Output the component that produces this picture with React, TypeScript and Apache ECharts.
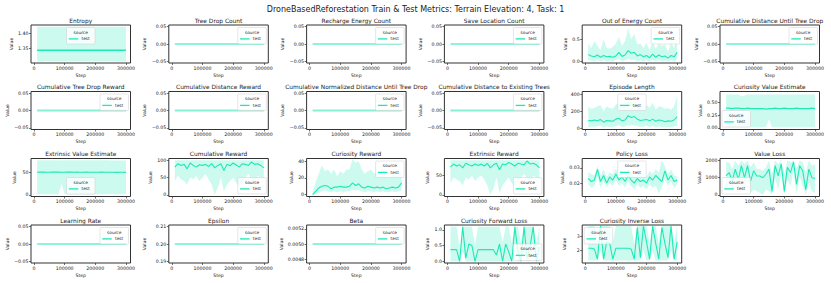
import React, { useEffect, useRef } from "react";
import * as echarts from "echarts";

// ---------- data ----------
const mainTitle = "DroneBasedReforestation Train & Test Metrics: Terrain Elevation: 4, Task: 1";
const steps = [10000, 20000, 30000, 40000, 50000, 60000, 70000, 80000, 90000, 100000, 110000, 120000, 130000, 140000, 150000, 160000, 170000, 180000, 190000, 200000, 210000, 220000, 230000, 240000, 250000, 260000, 270000, 280000, 290000, 300000];
const xTicks = [0, 100000, 200000, 300000];
const xTickLabels = ["0", "100000", "200000", "300000"];

const zeroTicks = [-0.05, 0, 0.05];
const zeroTickLabels = ["\u22120.05", "0.00", "0.05"];
const entropyTicks = [1.35, 1.4];
const entropyTickLabels = ["1.35", "1.40"];
const energyTicks = [0, 0.5];
const energyTickLabels = ["0.0", "0.5"];
const episodeTicks = [0, 200, 400];
const episodeTickLabels = ["0", "200", "400"];
const curValTicks = [0, 0.25, 0.5];
const curValTickLabels = ["0.00", "0.25", "0.50"];
const fiftyTicks = [0, 50];
const fiftyTickLabels = ["0", "50"];
const hundredTicks = [0, 50, 100];
const hundredTickLabels = ["0", "50", "100"];
const curRewardTicks = [0, 20, 40];
const curRewardTickLabels = ["0", "20", "40"];
const policyTicks = [0.02, 0.03];
const policyTickLabels = ["0.02", "0.03"];
const valueLossTicks = [0, 1000, 2000];
const valueLossTickLabels = ["0", "1000", "2000"];
const epsilonTicks = [0.19, 0.2, 0.21];
const epsilonTickLabels = ["0.19", "0.20", "0.21"];
const betaTicks = [0.0048, 0.005, 0.0052];
const betaTickLabels = ["0.0048", "0.0050", "0.0052"];
const fwdTicks = [0, 0.5, 1];
const fwdTickLabels = ["0.0", "0.5", "1.0"];
const invTicks = [2, 3];
const invTickLabels = ["2", "3"];

const entropyMean = [1.345, 1.345, 1.345, 1.345, 1.345, 1.345, 1.345, 1.345, 1.345, 1.345, 1.345, 1.345, 1.345, 1.345, 1.345, 1.345, 1.345, 1.345, 1.345, 1.345, 1.345, 1.345, 1.345, 1.345, 1.345, 1.345, 1.345, 1.345, 1.345, 1.345];
const entropyUpper = [1.42, 1.42, 1.42, 1.42, 1.42, 1.42, 1.42, 1.42, 1.42, 1.42, 1.42, 1.42, 1.42, 1.42, 1.42, 1.42, 1.42, 1.42, 1.42, 1.42, 1.42, 1.42, 1.42, 1.42, 1.42, 1.42, 1.42, 1.42, 1.42, 1.42];
const entropyLower = [1.31, 1.31, 1.31, 1.31, 1.31, 1.31, 1.31, 1.31, 1.31, 1.31, 1.31, 1.31, 1.31, 1.31, 1.31, 1.31, 1.31, 1.31, 1.31, 1.31, 1.31, 1.31, 1.31, 1.31, 1.31, 1.31, 1.31, 1.31, 1.31, 1.31];
const treeDropCount = [0, 0, 0, 0, 0, 0, 0, 0, 0, 0, 0, 0, 0, 0, 0, 0, 0, 0, 0, 0, 0, 0, 0, 0, 0, 0, 0, 0, 0, 0];
const rechargeEnergyCount = [0, 0, 0, 0, 0, 0, 0, 0, 0, 0, 0, 0, 0, 0, 0, 0, 0, 0, 0, 0, 0, 0, 0, 0, 0, 0, 0, 0, 0, 0];
const saveLocationCount = [0, 0, 0, 0, 0, 0, 0, 0, 0, 0, 0, 0, 0, 0, 0, 0, 0, 0, 0, 0, 0, 0, 0, 0, 0, 0, 0, 0, 0, 0];
const outOfEnergyMean = [0.15, 0.12, 0.10, 0.14, 0.09, 0.13, 0.10, 0.11, 0.09, 0.12, 0.20, 0.11, 0.14, 0.24, 0.18, 0.20, 0.12, 0.15, 0.10, 0.13, 0.08, 0.16, 0.09, 0.14, 0.10, 0.12, 0.07, 0.13, 0.10, 0.20];
const outOfEnergyUpper = [0.40, 0.30, 0.45, 0.35, 0.25, 0.50, 0.30, 0.28, 0.33, 0.40, 0.55, 0.35, 0.45, 0.75, 0.50, 0.62, 0.38, 0.40, 0.30, 0.42, 0.25, 0.45, 0.28, 0.40, 0.35, 0.38, 0.22, 0.42, 0.30, 0.55];
const outOfEnergyLower = [0.02, 0.01, 0.00, 0.02, 0.00, 0.02, 0.00, 0.01, 0.00, 0.02, 0.05, 0.00, 0.02, 0.05, 0.03, 0.04, 0.00, 0.02, 0.00, 0.02, 0.00, 0.03, 0.00, 0.02, 0.00, 0.01, 0.00, 0.02, 0.00, 0.04];
const cumDistUntilTreeDrop = [0, 0, 0, 0, 0, 0, 0, 0, 0, 0, 0, 0, 0, 0, 0, 0, 0, 0, 0, 0, 0, 0, 0, 0, 0, 0, 0, 0, 0, 0];
const cumTreeDropReward = [0, 0, 0, 0, 0, 0, 0, 0, 0, 0, 0, 0, 0, 0, 0, 0, 0, 0, 0, 0, 0, 0, 0, 0, 0, 0, 0, 0, 0, 0];
const cumDistanceReward = [0, 0, 0, 0, 0, 0, 0, 0, 0, 0, 0, 0, 0, 0, 0, 0, 0, 0, 0, 0, 0, 0, 0, 0, 0, 0, 0, 0, 0, 0];
const cumNormDistUntilTreeDrop = [0, 0, 0, 0, 0, 0, 0, 0, 0, 0, 0, 0, 0, 0, 0, 0, 0, 0, 0, 0, 0, 0, 0, 0, 0, 0, 0, 0, 0, 0];
const cumDistToExistingTrees = [0, 0, 0, 0, 0, 0, 0, 0, 0, 0, 0, 0, 0, 0, 0, 0, 0, 0, 0, 0, 0, 0, 0, 0, 0, 0, 0, 0, 0, 0];
const episodeMean = [95, 90, 100, 92, 105, 75, 95, 90, 85, 110, 120, 90, 100, 150, 130, 140, 110, 95, 100, 105, 90, 110, 85, 100, 95, 80, 90, 85, 100, 140];
const episodeUpper = [250, 230, 240, 260, 270, 200, 260, 240, 230, 280, 300, 250, 270, 330, 300, 320, 260, 240, 250, 280, 240, 300, 220, 260, 250, 230, 240, 220, 260, 380];
const episodeLower = [20, 25, 20, 30, 30, 15, 25, 20, 15, 30, 40, 20, 25, 40, 35, 40, 30, 20, 25, 30, 20, 30, 15, 25, 20, 15, 20, 15, 25, 30];
const curValMean = [0.39, 0.39, 0.38, 0.39, 0.39, 0.38, 0.38, 0.39, 0.38, 0.38, 0.38, 0.38, 0.38, 0.37, 0.38, 0.38, 0.39, 0.38, 0.38, 0.39, 0.38, 0.38, 0.38, 0.39, 0.38, 0.38, 0.38, 0.38, 0.39, 0.38];
const curValUpper = [0.66, 0.66, 0.66, 0.66, 0.66, 0.62, 0.64, 0.66, 0.66, 0.66, 0.66, 0.66, 0.66, 0.66, 0.66, 0.66, 0.66, 0.66, 0.66, 0.66, 0.66, 0.66, 0.66, 0.66, 0.66, 0.66, 0.66, 0.66, 0.66, 0.66];
const curValLower = [0.01, 0.01, 0.01, 0.01, 0.01, 0.01, 0.01, 0.01, 0.01, 0.01, 0.01, 0.01, 0.01, 0.01, 0.17, 0.01, 0.01, 0.01, 0.01, 0.01, 0.01, 0.01, 0.01, 0.01, 0.01, 0.01, 0.01, 0.01, 0.01, 0.01];
const extValMean = [49.5, 49.8, 50.0, 49.7, 49.6, 49.9, 50.1, 49.8, 49.5, 49.7, 50.0, 49.8, 49.6, 49.9, 49.7, 49.5, 49.8, 49.6, 49.7, 49.5, 49.6, 49.8, 49.5, 49.4, 49.6, 49.5, 49.3, 49.5, 49.4, 49.2];
const extValUpper = [76, 76, 76, 76, 76, 76, 76, 76, 75.5, 76, 76, 76, 76, 76, 76, 76, 76, 76, 76, 76, 76, 76, 76, 76, 75.5, 75.5, 75.5, 75.5, 75.5, 75.5];
const extValLower = [1, 1, 1, 1, 1, 1, 1, 1, 24, 1, 1, 1, 1, 1, 1, 1, 1, 1, 1, 1, 1, 1, 1, 1, 1, 1, 1, 1, 1, 1];
const cumRewardMean = [80, 90, 85, 88, 75, 92, 85, 80, 87, 85, 88, 82, 90, 78, 85, 90, 70, 88, 84, 92, 86, 80, 90, 88, 85, 95, 88, 90, 85, 78];
const cumRewardUpper = [100, 100, 100, 100, 100, 100, 100, 100, 100, 100, 100, 100, 100, 100, 100, 100, 100, 100, 100, 100, 100, 100, 100, 100, 100, 100, 100, 100, 100, 100];
const cumRewardLower = [40, 55, 45, 40, 30, 50, 45, 55, 40, 50, 60, 45, 30, 0, 20, 50, 10, 30, 40, 50, 35, 25, 40, 50, 60, 45, 30, 55, 50, 45];
const curRewardMean = [0, 4, 8, 10, 11, 10, 7, 9, 9, 10, 9, 9, 10, 14, 11, 13, 9, 8, 10, 9, 8, 9, 8, 9, 7, 8, 9, 8, 9, 14];
const curRewardUpper = [2, 15, 25, 35, 28, 30, 25, 30, 22, 28, 25, 30, 30, 42, 38, 40, 30, 25, 28, 30, 25, 28, 22, 25, 22, 20, 25, 22, 25, 30];
const curRewardLower = [0, 1, 2, 4, 5, 4, 3, 4, 3, 4, 3, 4, 4, 6, 5, 6, 4, 3, 4, 4, 3, 4, 3, 4, 3, 3, 4, 3, 4, 5];
const extRewardMean = [72, 80, 75, 78, 70, 82, 78, 75, 80, 76, 80, 75, 82, 70, 78, 82, 65, 80, 78, 84, 80, 75, 82, 80, 78, 88, 80, 82, 78, 70];
const extRewardUpper = [90, 90, 90, 90, 90, 90, 90, 90, 90, 90, 90, 90, 90, 90, 90, 90, 90, 90, 90, 90, 90, 90, 90, 90, 90, 90, 90, 90, 90, 90];
const extRewardLower = [30, 45, 40, 35, 25, 45, 40, 50, 35, 45, 50, 40, 25, 0, 15, 45, 5, 25, 35, 45, 30, 20, 35, 45, 55, 40, 25, 50, 45, 40];
const policyLossMean = [0.023, 0.021, 0.022, 0.029, 0.021, 0.025, 0.020, 0.024, 0.022, 0.026, 0.022, 0.024, 0.021, 0.025, 0.022, 0.020, 0.023, 0.021, 0.022, 0.020, 0.024, 0.022, 0.025, 0.023, 0.021, 0.028, 0.022, 0.025, 0.021, 0.022];
const policyLossUpper = [0.027, 0.026, 0.025, 0.031, 0.025, 0.029, 0.024, 0.027, 0.026, 0.029, 0.026, 0.028, 0.025, 0.029, 0.026, 0.024, 0.027, 0.025, 0.026, 0.024, 0.028, 0.026, 0.029, 0.027, 0.035, 0.031, 0.026, 0.029, 0.025, 0.024];
const policyLossLower = [0.019, 0.017, 0.018, 0.024, 0.017, 0.021, 0.017, 0.020, 0.018, 0.022, 0.018, 0.020, 0.017, 0.021, 0.018, 0.016, 0.019, 0.017, 0.018, 0.016, 0.019, 0.017, 0.018, 0.013, 0.017, 0.023, 0.018, 0.021, 0.017, 0.019];
const valueLossMean = [1100, 1300, 800, 1500, 900, 1700, 1000, 1700, 800, 1400, 1100, 1100, 1000, 1200, 1500, 200, 1700, 1100, 1800, 200, 1600, 1300, 1900, 600, 1700, 1400, 300, 1500, 1000, 950];
const valueLossUpper = [1900, 1900, 1500, 2000, 1700, 2000, 1800, 2000, 1600, 1900, 1500, 1500, 1400, 1600, 2000, 1200, 2000, 1800, 2000, 1200, 2000, 1900, 2000, 1500, 2000, 1900, 1300, 2000, 1700, 1800];
const valueLossLower = [400, 600, 200, 900, 200, 1100, 300, 1100, 100, 300, 200, 100, 0, 300, 200, 0, 1000, 300, 1200, 0, 900, 500, 1400, 0, 1100, 500, 0, 700, 200, 100];
const learningRate = [0, 0, 0, 0, 0, 0, 0, 0, 0, 0, 0, 0, 0, 0, 0, 0, 0, 0, 0, 0, 0, 0, 0, 0, 0, 0, 0, 0, 0, 0];
const epsilon = [0.2, 0.2, 0.2, 0.2, 0.2, 0.2, 0.2, 0.2, 0.2, 0.2, 0.2, 0.2, 0.2, 0.2, 0.2, 0.2, 0.2, 0.2, 0.2, 0.2, 0.2, 0.2, 0.2, 0.2, 0.2, 0.2, 0.2, 0.2, 0.2, 0.2];
const beta = [0.005, 0.005, 0.005, 0.005, 0.005, 0.005, 0.005, 0.005, 0.005, 0.005, 0.005, 0.005, 0.005, 0.005, 0.005, 0.005, 0.005, 0.005, 0.005, 0.005, 0.005, 0.005, 0.005, 0.005, 0.005, 0.005, 0.005, 0.005, 0.005, 0.005];
const fwdLossMean = [0.37, 0.37, 0.37, 0.0, 1.1, 0.1, 0.55, 0.5, 0.0, 0.37, 0.37, 0.37, 0.37, 0.37, 0.37, 0.2, 0.55, 0.0, 0.55, 0.3, 0.0, 1.1, 0.3, 0.0, 1.1, 0.1, 0.5, 1.1, 0.0, 0.45];
const fwdLossUpper = [1.1, 1.1, 1.1, 0.4, 1.1, 1.1, 1.1, 1.1, 0.5, 1.1, 1.1, 1.1, 1.1, 1.1, 1.1, 1.1, 1.1, 0.6, 1.1, 1.1, 0.6, 1.1, 1.1, 0.6, 1.1, 1.1, 1.1, 1.1, 0.6, 1.1];
const fwdLossLower = [0, 0, 0, 0, 0.3, 0, 0, 0, 0, 0, 0, 0, 0, 0, 0, 0, 0, 0, 0, 0, 0, 0.3, 0, 0, 0.3, 0, 0, 0.3, 0, 0];
const invLossMean = [2.15, 2.15, 2.1, 1.4, 3.7, 1.4, 2.6, 2.5, 1.4, 2.15, 2.15, 2.15, 2.15, 2.15, 2.1, 1.4, 3.6, 1.5, 3.7, 2.6, 1.4, 3.7, 2.5, 1.4, 3.6, 2.5, 1.5, 3.7, 1.4, 2.6];
const invLossUpper = [3.7, 3.7, 3.7, 2.4, 3.7, 3.7, 3.7, 3.7, 2.5, 3.7, 3.7, 3.7, 3.7, 3.7, 3.7, 2.4, 3.7, 3.7, 3.7, 3.7, 2.5, 3.7, 3.7, 2.5, 3.7, 3.7, 3.7, 3.7, 2.5, 3.7];
const invLossLower = [1.3, 1.3, 1.3, 1.3, 2.0, 1.3, 1.3, 1.3, 1.3, 1.3, 1.3, 1.3, 1.3, 1.3, 1.3, 1.3, 1.3, 1.3, 2.0, 1.3, 1.3, 2.0, 1.3, 1.3, 1.3, 1.3, 1.3, 2.0, 1.3, 1.3];

// ---------- layout / style ----------
const FONT = "DejaVu Sans";
const TXT = "#222222";
const LINE = "#1de9b6";
const BAND = "rgba(29,233,182,0.22)";
const LIGHT = "#86efd4";
const FRAME = "#333333";
const colX = [31, 168.8, 306.6, 444.4, 582.2, 720];
const rowY = [25, 91.5, 158.5, 225];
const PW = 99.5;
const PH = 38;
const X_MIN = -9750;
const X_MAX = 314750;
const TICK_FS = 4.7;
const NAME_FS = 4.6;
const TITLE_FS = 5.9;
const LEG_FS = 4.3;

type Panel = {
  title: string; row: number; col: number;
  mean: number[]; lower?: number[]; upper?: number[];
  yMin: number; yMax: number; yTicks: number[]; yLabels: string[];
  legend: string; nameDist: number; lineColor?: string; lineWidth?: number;
};

const panels: Panel[] = [
  { title: "Entropy", row: 0, col: 0, mean: entropyMean, lower: entropyLower, upper: entropyUpper, yMin: 1.3045, yMax: 1.4255, yTicks: entropyTicks, yLabels: entropyTickLabels, legend: "uc", nameDist: 19, lineWidth: 1.6 },
  { title: "Tree Drop Count", row: 0, col: 1, mean: treeDropCount, yMin: -0.055, yMax: 0.055, yTicks: zeroTicks, yLabels: zeroTickLabels, legend: "ur", nameDist: 23.5 },
  { title: "Recharge Energy Count", row: 0, col: 2, mean: rechargeEnergyCount, yMin: -0.055, yMax: 0.055, yTicks: zeroTicks, yLabels: zeroTickLabels, legend: "ur", nameDist: 23.5 },
  { title: "Save Location Count", row: 0, col: 3, mean: saveLocationCount, yMin: -0.055, yMax: 0.055, yTicks: zeroTicks, yLabels: zeroTickLabels, legend: "ur", nameDist: 23.5 },
  { title: "Out of Energy Count", row: 0, col: 4, mean: outOfEnergyMean, lower: outOfEnergyLower, upper: outOfEnergyUpper, yMin: -0.04, yMax: 0.82, yTicks: energyTicks, yLabels: energyTickLabels, legend: "ur", nameDist: 15.5 },
  { title: "Cumulative Distance Until Tree Drop", row: 0, col: 5, mean: cumDistUntilTreeDrop, yMin: -0.055, yMax: 0.055, yTicks: zeroTicks, yLabels: zeroTickLabels, legend: "ur", nameDist: 23.5 },
  { title: "Cumulative Tree Drop Reward", row: 1, col: 0, mean: cumTreeDropReward, yMin: -0.055, yMax: 0.055, yTicks: zeroTicks, yLabels: zeroTickLabels, legend: "ur", nameDist: 23.5, lineColor: LIGHT, lineWidth: 2 },
  { title: "Cumulative Distance Reward", row: 1, col: 1, mean: cumDistanceReward, yMin: -0.055, yMax: 0.055, yTicks: zeroTicks, yLabels: zeroTickLabels, legend: "ur", nameDist: 23.5, lineColor: LIGHT, lineWidth: 2 },
  { title: "Cumulative Normalized Distance Until Tree Drop", row: 1, col: 2, mean: cumNormDistUntilTreeDrop, yMin: -0.055, yMax: 0.055, yTicks: zeroTicks, yLabels: zeroTickLabels, legend: "ur", nameDist: 23.5, lineColor: LIGHT, lineWidth: 2 },
  { title: "Cumulative Distance to Existing Trees", row: 1, col: 3, mean: cumDistToExistingTrees, yMin: -0.055, yMax: 0.055, yTicks: zeroTicks, yLabels: zeroTickLabels, legend: "ur", nameDist: 23.5, lineColor: LIGHT, lineWidth: 2 },
  { title: "Episode Length", row: 1, col: 4, mean: episodeMean, lower: episodeLower, upper: episodeUpper, yMin: -10, yMax: 430, yTicks: episodeTicks, yLabels: episodeTickLabels, legend: "uc", nameDist: 17 },
  { title: "Curiosity Value Estimate", row: 1, col: 5, mean: curValMean, lower: curValLower, upper: curValUpper, yMin: -0.033, yMax: 0.72, yTicks: curValTicks, yLabels: curValTickLabels, legend: "ll", nameDist: 18.5 },
  { title: "Extrinsic Value Estimate", row: 2, col: 0, mean: extValMean, lower: extValLower, upper: extValUpper, yMin: -3.8, yMax: 79.8, yTicks: fiftyTicks, yLabels: fiftyTickLabels, legend: "lc", nameDist: 16 },
  { title: "Cumulative Reward", row: 2, col: 1, mean: cumRewardMean, lower: cumRewardLower, upper: cumRewardUpper, yMin: -5, yMax: 105, yTicks: hundredTicks, yLabels: hundredTickLabels, legend: "lr", nameDist: 15.5 },
  { title: "Curiosity Reward", row: 2, col: 2, mean: curRewardMean, lower: curRewardLower, upper: curRewardUpper, yMin: -2.1, yMax: 43, yTicks: curRewardTicks, yLabels: curRewardTickLabels, legend: "ur", nameDist: 14.5 },
  { title: "Extrinsic Reward", row: 2, col: 3, mean: extRewardMean, lower: extRewardLower, upper: extRewardUpper, yMin: -4.5, yMax: 94.5, yTicks: fiftyTicks, yLabels: fiftyTickLabels, legend: "lr", nameDist: 16 },
  { title: "Policy Loss", row: 2, col: 4, mean: policyLossMean, lower: policyLossLower, upper: policyLossUpper, yMin: 0.0112, yMax: 0.0361, yTicks: policyTicks, yLabels: policyTickLabels, legend: "uc", nameDist: 18 },
  { title: "Value Loss", row: 2, col: 5, mean: valueLossMean, lower: valueLossLower, upper: valueLossUpper, yMin: -100, yMax: 2120, yTicks: valueLossTicks, yLabels: valueLossTickLabels, legend: "ll", nameDist: 20 },
  { title: "Learning Rate", row: 3, col: 0, mean: learningRate, yMin: -0.055, yMax: 0.055, yTicks: zeroTicks, yLabels: zeroTickLabels, legend: "ur", nameDist: 23.5 },
  { title: "Epsilon", row: 3, col: 1, mean: epsilon, yMin: 0.189, yMax: 0.211, yTicks: epsilonTicks, yLabels: epsilonTickLabels, legend: "ur", nameDist: 23.5 },
  { title: "Beta", row: 3, col: 2, mean: beta, yMin: 0.00475, yMax: 0.00525, yTicks: betaTicks, yLabels: betaTickLabels, legend: "ur", nameDist: 23.5 },
  { title: "Curiosity Forward Loss", row: 3, col: 3, mean: fwdLossMean, lower: fwdLossLower, upper: fwdLossUpper, yMin: -0.055, yMax: 1.155, yTicks: fwdTicks, yLabels: fwdTickLabels, legend: "lr", nameDist: 16 },
  { title: "Curiosity Inverse Loss", row: 3, col: 4, mean: invLossMean, lower: invLossLower, upper: invLossUpper, yMin: 1.13, yMax: 3.77, yTicks: invTicks, yLabels: invTickLabels, legend: "ul", nameDist: 17 },
];

function nearestLabel(v: number, ticks: number[], labels: string[]) {
  let best = 0;
  for (let k = 1; k < ticks.length; k++) {
    if (Math.abs(ticks[k] - v) < Math.abs(ticks[best] - v)) best = k;
  }
  return labels[best];
}

function buildOption() {
  const grid: any[] = [];
  const xAxis: any[] = [];
  const yAxis: any[] = [];
  const series: any[] = [];
  const graphic: any[] = [];

  graphic.push({
    type: "text", x: 415.5, y: 9, z: 100,
    style: { text: mainTitle, fontSize: 8, fontFamily: FONT, fill: TXT, align: "center", verticalAlign: "middle" },
  });

  panels.forEach((p, i) => {
    const L = colX[p.col];
    const T = rowY[p.row];
    grid.push({ left: L, top: T, width: PW, height: PH, show: true, borderColor: FRAME, borderWidth: 1, backgroundColor: "transparent" });
    xAxis.push({
      type: "value", gridIndex: i, min: X_MIN, max: X_MAX,
      name: "Step", nameLocation: "middle", nameGap: 9.5,
      nameTextStyle: { fontSize: NAME_FS, color: TXT, fontFamily: FONT },
      axisLine: { show: false, onZero: false },
      axisTick: { show: true, length: 2, customValues: xTicks, lineStyle: { color: FRAME, width: 0.7 } },
      axisLabel: { customValues: xTicks, fontSize: TICK_FS, color: TXT, fontFamily: FONT, margin: 2.5, formatter: (v: number) => nearestLabel(v, xTicks, xTickLabels) },
      splitLine: { show: false },
    });
    yAxis.push({
      type: "value", gridIndex: i, min: p.yMin, max: p.yMax,
      name: "Value", nameLocation: "middle", nameGap: p.nameDist - 2, nameRotate: 90,
      nameTextStyle: { fontSize: NAME_FS, color: TXT, fontFamily: FONT },
      axisLine: { show: false, onZero: false },
      axisTick: { show: true, length: 2, customValues: p.yTicks, lineStyle: { color: FRAME, width: 0.7 } },
      axisLabel: { customValues: p.yTicks, fontSize: TICK_FS, color: TXT, fontFamily: FONT, margin: 2.5, formatter: (v: number) => nearestLabel(v, p.yTicks, p.yLabels) },
      splitLine: { show: false },
    });
    if (p.lower && p.upper) {
      const lo = p.lower;
      const up = p.upper;
      series.push({
        type: "custom", xAxisIndex: i, yAxisIndex: i, silent: true, z: 1, clip: true,
        data: steps.map((s, k) => [s, lo[k], up[k]]),
        encode: { x: 0, y: [1, 2] },
        renderItem: (params: any, api: any) => {
          if (params.dataIndex !== 0) return null;
          const top = steps.map((s, k) => api.coord([s, up[k]]));
          const bottom = steps.map((s, k) => api.coord([s, lo[k]])).reverse();
          return { type: "polygon", shape: { points: top.concat(bottom) }, style: { fill: BAND, stroke: "none" } };
        },
      });
    }
    series.push({
      type: "line", name: "test", xAxisIndex: i, yAxisIndex: i,
      data: steps.map((s, k) => [s, p.mean[k]]), symbol: "none", silent: true,
      lineStyle: { color: p.lineColor || LINE, width: p.lineWidth || 1.1 }, z: 3,
    });

    graphic.push({
      type: "text", x: L + PW / 2, y: T - 4.4, z: 100,
      style: { text: p.title, fontSize: TITLE_FS, fontFamily: FONT, fill: TXT, align: "center", verticalAlign: "middle" },
    });

    const w = 28.5;
    const h = 16.5;
    let bx = L + PW - 2 - w;
    if (p.legend[1] === "c") bx = L + PW / 2 - w / 2;
    if (p.legend[1] === "l") bx = L + 2;
    let by = T + 2.5;
    if (p.legend[0] === "l") by = T + PH - 2.5 - h;
    graphic.push({
      type: "group", x: bx, y: by, z: 100,
      children: [
        { type: "rect", z: 100, shape: { x: 0, y: 0, width: w, height: h, r: 1 }, style: { fill: "rgba(255,255,255,0.8)", stroke: "#cccccc", lineWidth: 0.5 } },
        { type: "text", z: 101, x: w / 2, y: 4.7, style: { text: "source", fontSize: LEG_FS, fontFamily: FONT, fill: TXT, align: "center", verticalAlign: "middle" } },
        { type: "line", z: 101, shape: { x1: 2.3, y1: 11.4, x2: 11.8, y2: 11.4 }, style: { stroke: LINE, lineWidth: 1.3 } },
        { type: "text", z: 101, x: 15, y: 11.4, style: { text: "test", fontSize: LEG_FS, fontFamily: FONT, fill: TXT, align: "left", verticalAlign: "middle" } },
      ],
    });
  });

  return { animation: false, backgroundColor: "#ffffff", grid, xAxis, yAxis, series, graphic };
}

export default function App() {
  const ref = useRef<HTMLDivElement>(null);
  useEffect(() => {
    if (!ref.current) return;
    const chart = echarts.init(ref.current, undefined, { renderer: "svg" });
    chart.setOption(buildOption() as any);
    return () => chart.dispose();
  }, []);
  return (
    <div
      ref={ref}
      style={{ position: "fixed", left: 0, top: 0, width: 831, height: 283, background: "#fff" }}
    />
  );
}
